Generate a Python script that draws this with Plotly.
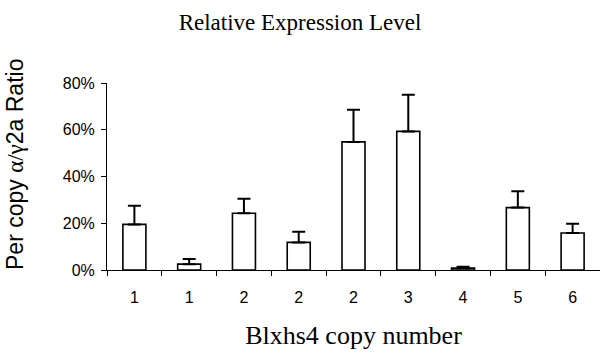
import plotly.graph_objects as go

categories = ["c1", "c2", "c3", "c4", "c5", "c6", "c7", "c8", "c9"]
tick_labels = ["1", "1", "2", "2", "2", "3", "4", "5", "6"]
values = [0.195, 0.025, 0.243, 0.118, 0.548, 0.593, 0.008, 0.267, 0.158]
errors = [0.080, 0.022, 0.062, 0.046, 0.138, 0.157, 0.006, 0.070, 0.040]

W, H = 600, 360
L, R, T, B = 107, 0, 83, 90
pw, ph = W - L - R, H - T - B

fig = go.Figure()
fig.add_trace(go.Bar(
    x=categories, y=values,
    marker=dict(color="white", line=dict(color="black", width=1.6)),
    error_y=dict(type="data", array=errors, arrayminus=[0]*len(errors), symmetric=False,
                 color="black", thickness=2, width=6.5),
    showlegend=False,
))

fig.update_layout(
    width=W, height=H,
    paper_bgcolor="white", plot_bgcolor="white",
    margin=dict(l=L, r=R, t=T, b=B),
    bargap=0.58,
    title=dict(text="Relative Expression Level", x=0.5, xanchor="center", y=0.94, yanchor="middle",
               font=dict(family="Liberation Serif", size=23, color="black")),
    font=dict(family="Liberation Sans", color="black"),
)
fig.add_annotation(
    text="Per copy <span style='font-family:Liberation Serif'>α/γ</span>2a Ratio",
    xref="paper", yref="paper",
    x=(15 - L) / pw, y=(H - B - 165) / ph,
    xanchor="center", yanchor="middle", textangle=-90, showarrow=False,
    font=dict(family="Liberation Sans", size=23, color="black"),
)
fig.update_xaxes(
    type="category", tickmode="array", tickvals=categories, ticktext=tick_labels,
    tickson="boundaries", ticks="outside", ticklen=5, tickcolor="black",
    showline=True, linecolor="black", linewidth=1, showgrid=False,
    tickfont=dict(family="Liberation Sans", size=16, color="black"),
    ticklabelstandoff=13, automargin=False,
    title=dict(text="Blxhs4 copy number", standoff=20,
               font=dict(family="Liberation Serif", size=26, color="black")),
)
fig.update_yaxes(
    range=[0, 0.8], tickvals=[0, 0.2, 0.4, 0.6, 0.8], tickformat=".0%",
    ticks="outside", ticklen=5, tickcolor="black",
    showline=True, linecolor="black", linewidth=1, showgrid=False, zeroline=False,
    tickfont=dict(family="Liberation Sans", size=16, color="black"),
    ticklabelstandoff=3, automargin=False,
)

fig.write_html("out.html", config={"displayModeBar": False},
               post_script="document.body.style.margin='0';")
